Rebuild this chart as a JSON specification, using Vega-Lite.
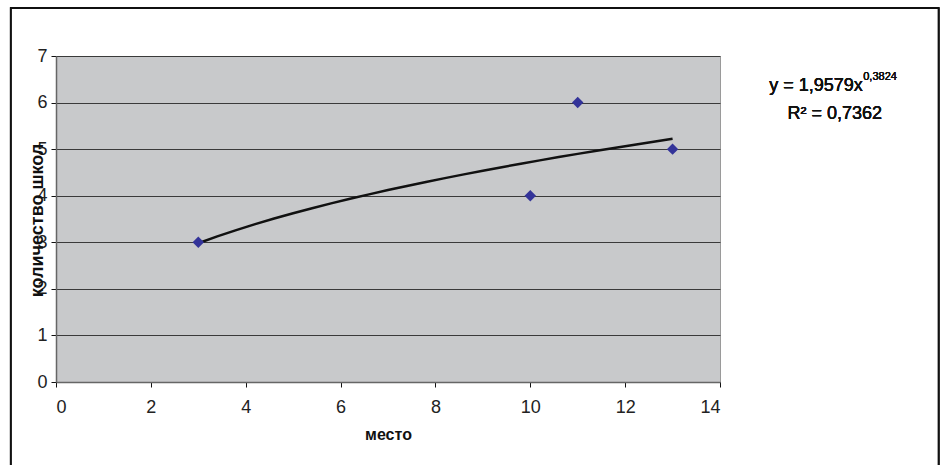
{
  "$schema": "https://vega.github.io/schema/vega-lite/v6.json",
  "width": 664,
  "height": 326,
  "autosize": {"type": "none"},
  "padding": {"left": 56, "top": 56, "right": 222, "bottom": 83},
  "background": "white",
  "config": {
    "view": {"fill": "#C8C9CB", "stroke": "#9a9a9a", "strokeWidth": 1},
    "font": "Liberation Sans",
    "axis": {
      "labelFont": "Liberation Sans",
      "titleFont": "Liberation Sans",
      "labelColor": "#222",
      "titleColor": "#111",
      "tickColor": "#111",
      "domainColor": "#666",
      "domainWidth": 1.5
    }
  },
  "data": {
    "values": [
      {"место": 3, "количество": 3},
      {"место": 10, "количество": 4},
      {"место": 11, "количество": 6},
      {"место": 13, "количество": 5}
    ]
  },
  "layer": [
    {
      "mark": {"type": "line", "color": "#111", "strokeWidth": 2.5},
      "transform": [
        {"regression": "количество", "on": "место", "method": "pow", "extent": [3, 13]}
      ],
      "encoding": {
        "x": {
          "field": "место", "type": "quantitative",
          "scale": {"domain": [0, 14], "nice": false, "zero": true},
          "axis": {
            "title": "место", "titleFontSize": 16, "titleFontWeight": "bold",
            "titlePadding": 10,
            "values": [0, 2, 4, 6, 8, 10, 12, 14],
            "labelFontSize": 18, "labelPadding": 11, "tickSize": 5,
            "grid": false
          }
        },
        "y": {
          "field": "количество", "type": "quantitative",
          "scale": {"domain": [0, 7], "nice": false},
          "axis": {
            "title": "количество школ", "titleFontSize": 18, "titleFontWeight": "bold",
            "titleAngle": -90, "titleX": -19, "titleY": 164, "titleBaseline": "middle",
            "titleAlign": "center",
            "values": [0, 1, 2, 3, 4, 5, 6, 7],
            "labelFontSize": 18, "labelPadding": 4, "tickSize": 5,
            "grid": true, "gridColor": "#3a3a3a", "gridWidth": 1
          }
        }
      }
    },
    {
      "mark": {"type": "point", "shape": "diamond", "filled": true, "size": 130, "color": "#333399", "opacity": 1},
      "encoding": {
        "x": {"field": "место", "type": "quantitative"},
        "y": {"field": "количество", "type": "quantitative"}
      }
    },
    {
      "mark": {"type": "text", "text": "y = 1,9579x", "align": "right", "baseline": "middle", "fontSize": 18, "fontWeight": "normal", "font": "Liberation Sans", "color": "#111"},
      "encoding": {
        "x": {"datum": 17.01, "type": "quantitative"},
        "y": {"datum": 6.36, "type": "quantitative"}
      }
    },
    {
      "mark": {"type": "text", "text": "0,3824", "align": "left", "baseline": "middle", "fontSize": 11, "fontWeight": "normal", "font": "Liberation Sans", "color": "#111"},
      "encoding": {
        "x": {"datum": 17.02, "type": "quantitative"},
        "y": {"datum": 6.55, "type": "quantitative"}
      }
    },
    {
      "mark": {"type": "text", "text": "R² = 0,7362", "align": "center", "baseline": "middle", "fontSize": 18, "fontWeight": "normal", "font": "Liberation Sans", "color": "#111"},
      "encoding": {
        "x": {"datum": 16.42, "type": "quantitative"},
        "y": {"datum": 5.76, "type": "quantitative"}
      }
    },
    {
      "mark": {"type": "rect", "fill": null, "fillOpacity": 0, "stroke": "#111", "strokeWidth": 1.5},
      "encoding": {
        "x": {"datum": -0.955, "type": "quantitative"},
        "x2": {"datum": 18.61},
        "y": {"datum": 8.03, "type": "quantitative"},
        "y2": {"datum": -1.99}
      }
    }
  ]
}
